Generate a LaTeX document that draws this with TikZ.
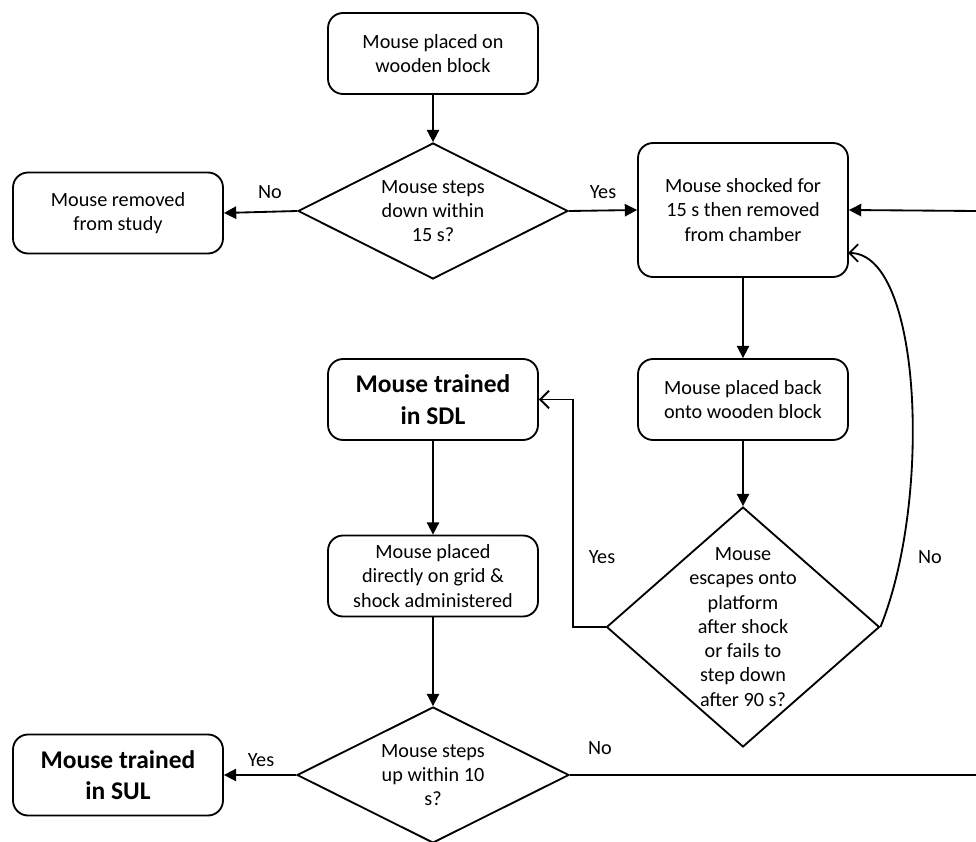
\documentclass[tikz,border=0pt]{standalone}
\usepackage{fontspec}
\setmainfont{Carlito}
\usetikzlibrary{arrows.meta, shapes.geometric}

\begin{document}
\begin{tikzpicture}[x=0.02cm, y=-0.02cm, line width=1.05pt,
    box/.style={draw, rounded corners=0.3cm, align=center, inner sep=2pt,
        minimum width=4.2cm, minimum height=1.62cm, font=\fontsize{11.5}{13.8}\selectfont},
    bigbox/.style={box, font=\fontsize{14.5}{18}\selectfont\bfseries},
    decision/.style={draw, diamond, inner sep=0pt},
    qtext/.style={align=center, inner sep=0pt, font=\fontsize{11.5}{13.8}\selectfont},
    lbl/.style={inner sep=1pt, font=\fontsize{11.5}{13.8}\selectfont},
    arr/.style={-{Triangle[length=7pt,width=7pt]}},
    openarr/.style={-{Straight Barb[length=5pt,width=10pt]}}]
        \clip (0,0) rectangle (976,841);
        % boxes
        \node[box] (placed) at (433,53.5) {Mouse placed on\\wooden block};
        \node[box] (removed) at (118,213) {Mouse removed\\from study};
        \node[box, minimum height=2.68cm] (shocked) at (743,210) {Mouse shocked for\\15 s then removed\\from chamber};
        \node[box] (back) at (743,399.5) {Mouse placed back\\onto wooden block};
        \node[bigbox] (sdl) at (433,399.5) {Mouse trained\\in SDL};
        \node[box] (grid) at (433,576) {Mouse placed\\directly on grid \&\\shock administered};
        \node[bigbox] (sul) at (118,775) {Mouse trained\\in SUL};
        % decisions
        \node[decision, minimum width=5.4cm, minimum height=2.72cm] (down) at (433,211) {};
        \node[qtext] (downq) at (down) {Mouse steps\\down within\\15 s?};
        \node[decision, minimum width=5.46cm, minimum height=4.8cm] (escape) at (743,627) {};
        \node[qtext] (escapeq) at (escape) {Mouse\\escapes onto\\platform\\after shock\\or fails to\\step down\\after 90 s?};
        \node[decision, minimum width=5.44cm, minimum height=2.72cm] (up) at (433,775) {};
        \node[qtext] (upq) at (up) {Mouse steps\\up within 10\\s?};
        \coordinate (yescorner) at (573,627);
        \coordinate (shockin) at (848,253);
        \coordinate (redgetop) at (976,211);
        \coordinate (redgebot) at (976,775);
        % connectors
        \draw[arr] (placed) -- (down);
        \draw[arr] (down.west) -- (removed.east);
        \draw[arr] (down.east) -- (shocked.west);
        \draw[arr] (shocked) -- (back);
        \draw[arr] (back) -- (escape.north);
        \draw[openarr] (escape.west) -- (yescorner) |- (sdl.east);
        \draw[openarr] (escape.east) .. controls (932,500) and (922,253) .. (shockin);
        \draw[arr] (redgetop) -- (shocked.east);
        \draw[arr] (sdl) -- (grid);
        \draw[arr] (grid) -- (up.north);
        \draw[arr] (up.west) -- (sul.east);
        \draw (up.east) -- (redgebot);
        % labels
        \node[lbl] (noremove) at (270,192) {No};
        \node[lbl] (yesshock) at (603,192) {Yes};
        \node[lbl] (yessdl) at (602,557) {Yes};
        \node[lbl] (noagain) at (930,557) {No};
        \node[lbl] (yessul) at (261,760) {Yes};
        \node[lbl] (norepeat) at (600,748) {No};
    \end{tikzpicture}
\end{document}
